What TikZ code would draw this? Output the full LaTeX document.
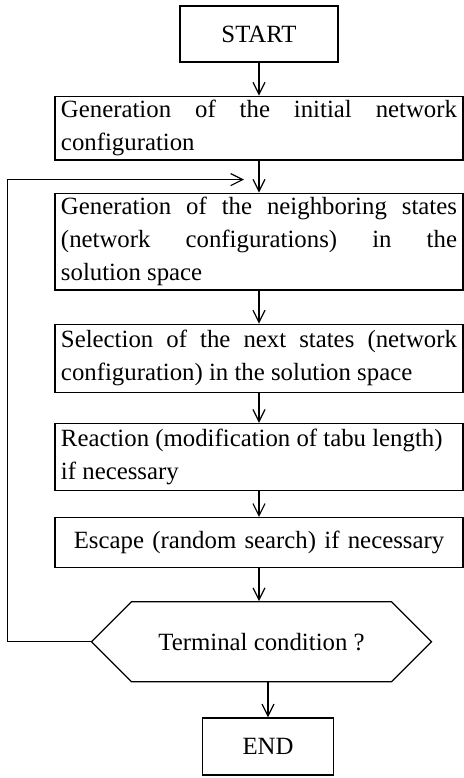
\documentclass[tikz,border=0pt]{standalone}
\usepackage{fontspec}
\setmainfont{Liberation Serif}
\usetikzlibrary{positioning, arrows.meta, shapes.symbols}

\begin{document}
\begin{tikzpicture}[
    line width=0.6pt,
    font=\fontsize{12.4}{16.5}\selectfont,
    process/.style={
        draw,
        rectangle,
        text width=198pt,
        align=justify,
        inner xsep=3pt,
        inner ysep=2pt
    },
    endpoint/.style={
        draw,
        rectangle,
        minimum height=28pt
    },
    decision/.style={
        draw,
        signal,
        signal to=west and east,
        signal pointer angle=90,
        minimum width=170pt,
        minimum height=40pt
    },
    arrow/.style={-{Straight Barb[length=6pt,width=6pt]}}
]
    \useasboundingbox (0,0) rectangle (232pt,-389pt);

    \node[endpoint, minimum width=79pt] (start) at (129.5pt,-17pt) {START};
    \node[process, minimum height=31pt, below=16.5pt of start] (init) {Generation of the initial network\linebreak configuration};
    \node[process, minimum height=48pt, below=16pt of init] (neigh) {Generation of the neighboring states\linebreak (network configurations) in the\linebreak solution space};
    \node[process, minimum height=34pt, below=16.5pt of neigh] (select) {Selection of the next states (network\linebreak configuration) in the solution space};
    \node[process, minimum height=33.5pt, below=15pt of select] (react) {Reaction (modification of tabu length)\\ if necessary};
    \node[process, align=center, minimum height=25pt, below=13pt of react] (escape) {Escape (random search) if necessary};
    \node[decision, below=16.5pt of escape, xshift=1.25pt] (term) {Terminal condition ?};
    \node[endpoint, minimum width=65.5pt, minimum height=28.5pt, below=17.5pt of term, xshift=3.25pt] (end) {END};
    \coordinate[below left=9.5pt and 7.5pt of init.south] (loopin);

    \draw[arrow] (start) -- (init);
    \draw[arrow] (init) -- (neigh);
    \draw[arrow] (neigh) -- (select);
    \draw[arrow] (select) -- (react);
    \draw[arrow] (react) -- (escape);
    \draw[arrow] (escape) -- (escape.south |- term.north);
    \draw[arrow] (term.south -| end.north) -- (end);
    \draw[arrow] (term.west) -- ++(-41.5pt,0) |- (loopin);

\end{tikzpicture}
\end{document}
